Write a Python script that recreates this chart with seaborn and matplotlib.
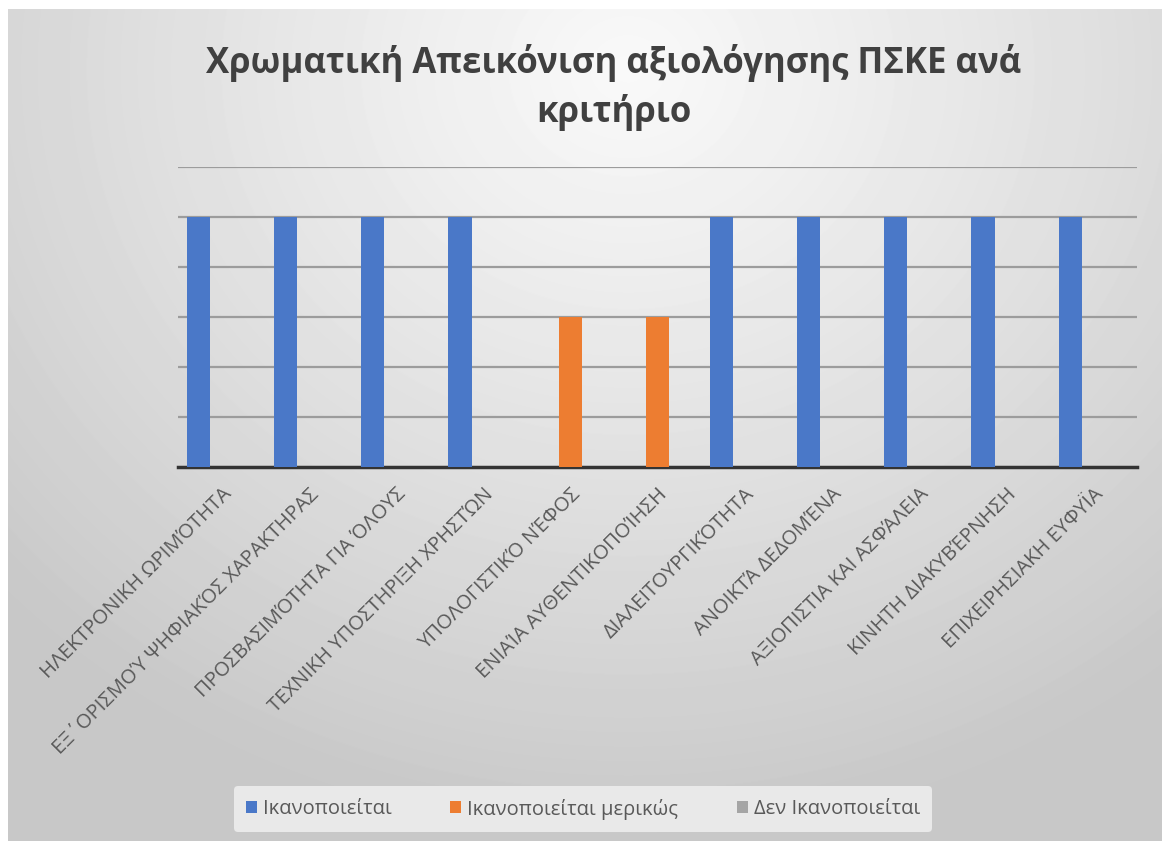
import numpy as np
import pandas as pd
import matplotlib
matplotlib.use("Agg")
import matplotlib.pyplot as plt
import seaborn as sns

categories = [
    "ΗΛΕΚΤΡΟΝΙΚΗ ΩΡΙΜΌΤΗΤΑ",
    "ΕΞ΄ΟΡΙΣΜΟΎ ΨΗΦΙΑΚΌΣ ΧΑΡΑΚΤΗΡΑΣ",
    "ΠΡΟΣΒΑΣΙΜΌΤΗΤΑ ΓΙΑ ΌΛΟΥΣ",
    "ΤΕΧΝΙΚΗ ΥΠΟΣΤΗΡΙΞΗ ΧΡΗΣΤΏΝ",
    "ΥΠΟΛΟΓΙΣΤΙΚΌ ΝΈΦΟΣ",
    "ΕΝΙΑΊΑ ΑΥΘΕΝΤΙΚΟΠΟΊΗΣΗ",
    "ΔΙΑΛΕΙΤΟΥΡΓΙΚΌΤΗΤΑ",
    "ΑΝΟΙΚΤΆ ΔΕΔΟΜΈΝΑ",
    "ΑΞΙΟΠΙΣΤΙΑ ΚΑΙ ΑΣΦΆΛΕΙΑ",
    "ΚΙΝΗΤΗ ΔΙΑΚΥΒΈΡΝΗΣΗ",
    "ΕΠΙΧΕΙΡΗΣΙΑΚΗ ΕΥΦΥΪΑ",
]
series_names = ["Ικανοποιείται", "Ικανοποιείται μερικώς", "Δεν Ικανοποιείται"]
satisfied = [5, 5, 5, 5, 0, 0, 5, 5, 5, 5, 5]
partial = [0, 0, 0, 0, 3, 3, 0, 0, 0, 0, 0]
not_satisfied = [0, 0, 0, 0, 0, 0, 0, 0, 0, 0, 0]
colors = ["#4A78C8", "#ED7D31", "#A5A5A5"]

df = pd.DataFrame({
    "crit": categories * 3,
    "series": [s for s in series_names for _ in categories],
    "value": satisfied + partial + not_satisfied,
})

sns.set_style("white")
plt.rcParams["font.family"] = ["Open Sans", "DejaVu Sans"]

fig = plt.figure(figsize=(11.62, 8.41), dpi=100, facecolor="white")

# gradient background
bg = fig.add_axes([8 / 1162, 0, 1 - 8 / 1162, 1 - 9 / 841], zorder=0)
yy, xx = np.mgrid[0:832, 0:1154]
r = np.sqrt((xx - 620) ** 2 + ((yy - 60) / 0.9) ** 2)
shade = 0.975 - 0.19 * np.clip(r / 850, 0, 1) ** 1.1
bg.imshow(shade, cmap="gray", vmin=0, vmax=1, aspect="auto", interpolation="bilinear")
bg.axis("off")

ax = fig.add_axes([178 / 1162, 1 - 467 / 841, 959 / 1162, 300 / 841], zorder=1)
ax.patch.set_alpha(0)
sns.barplot(data=df, x="crit", y="value", hue="series", palette=colors,
            width=0.8, saturation=1, ax=ax, edgecolor="none", zorder=3)

ax.set_ylim(0, 6)
ax.set_yticks([1, 2, 3, 4, 5, 6])
ax.yaxis.grid(True, color="#9c9c9c", linewidth=1.6)
ax.set_axisbelow(True)
ax.tick_params(axis="y", left=False, labelleft=False)
ax.tick_params(axis="x", bottom=False, pad=9)
for s in ["top", "right", "left"]:
    ax.spines[s].set_visible(False)
ax.spines["bottom"].set_color("#333333")
ax.spines["bottom"].set_linewidth(2.5)
ax.set_xlabel("")
ax.set_ylabel("")
plt.setp(ax.get_xticklabels(), rotation=45, ha="right", rotation_mode="anchor",
         fontsize=14.5, color="#595959")

fig.text(0.528, 0.948, "Χρωματική Απεικόνιση αξιολόγησης ΠΣΚΕ ανά\nκριτήριο",
         ha="center", va="top", fontsize=25, fontweight="bold", color="#404040",
         linespacing=1.45)

ax.legend_.remove()
handles, labels = ax.get_legend_handles_labels()
leg = fig.legend(handles, labels, loc="center", bbox_to_anchor=(583 / 1162, 1 - 809 / 841),
                 ncol=3, frameon=True, fontsize=14.5, handlelength=0.55, handleheight=0.55,
                 handletextpad=0.3, columnspacing=2.9, borderpad=0.6)
leg.get_frame().set_facecolor("#e9e9e9")
leg.get_frame().set_edgecolor("none")
leg.get_frame().set_alpha(1)
for t in leg.get_texts():
    t.set_color("#595959")

fig.savefig("out.png", dpi=100)
